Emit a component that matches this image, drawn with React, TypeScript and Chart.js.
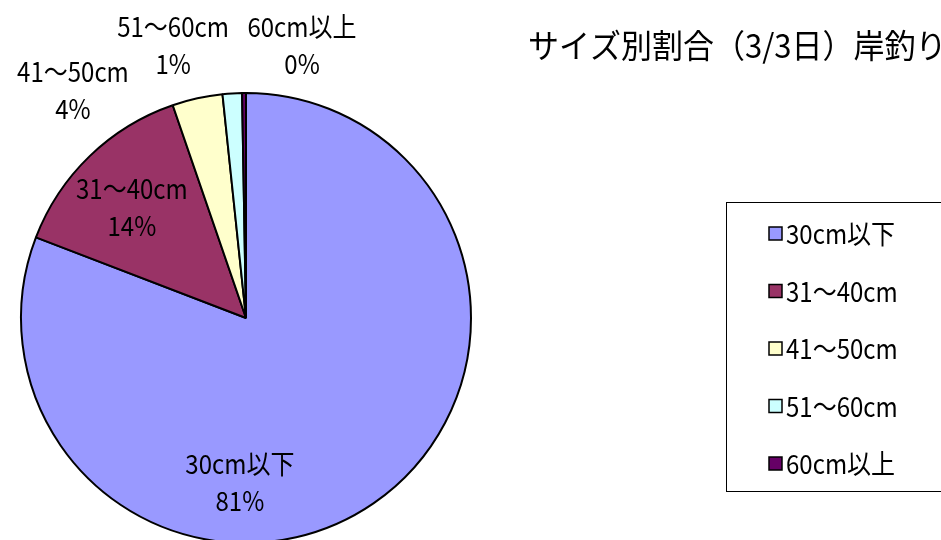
import React, { useEffect, useRef } from "react";
import { Chart, registerables } from "chart.js";

Chart.register(...registerables);

const categories = ["30cm以下", "31〜40cm", "41〜50cm", "51〜60cm", "60cm以上"];
const counts = [291, 50, 13, 5, 1];
const colors = ["#9999FF", "#993366", "#FFFFCC", "#CCFFFF", "#660066"];
const titleText = "サイズ別割合（3/3日）岸釣り";

const FONT = '"Noto Sans CJK JP", "Noto Sans CJK SC", sans-serif';

// label block centres, as fractions of the outer radius from the pie centre
const LABEL_OFFSETS: [number, number][] = [
  [-0.027, 0.729],
  [-0.507, -0.493],
  [-0.769, -1.013],
  [-0.324, -1.213],
  [0.249, -1.213],
];

function drawTall(ctx: CanvasRenderingContext2D, text: string, x: number, y: number, sy: number) {
  ctx.save();
  ctx.translate(x, y);
  ctx.scale(1, sy);
  ctx.fillText(text, 0, 0);
  ctx.restore();
}

const labelPlugin = {
  id: "pieLabels",
  afterDatasetsDraw(chart: any) {
    const meta = chart.getDatasetMeta(0);
    const data = chart.data.datasets[0].data as number[];
    const total = data.reduce((a, b) => a + b, 0);
    const ctx = chart.ctx;
    ctx.save();
    ctx.font = `24px ${FONT}`;
    ctx.fillStyle = "#000";
    ctx.textAlign = "center";
    ctx.textBaseline = "middle";
    meta.data.forEach((arc: any, i: number) => {
      const r = arc.outerRadius;
      const [fx, fy] = LABEL_OFFSETS[i];
      const cx = arc.x + fx * r;
      const cy = arc.y + fy * r;
      const pct = Math.round((data[i] / total) * 100) + "%";
      drawTall(ctx, chart.data.labels[i], cx, cy - 18.5, 1.12);
      drawTall(ctx, pct, cx, cy + 18.5, 1.12);
    });
    ctx.restore();
  },
};

const titleLegendPlugin = {
  id: "titleLegend",
  afterDraw(chart: any) {
    const ctx = chart.ctx;
    ctx.save();
    // title
    ctx.font = `31px ${FONT}`;
    ctx.fillStyle = "#000";
    ctx.textAlign = "left";
    ctx.textBaseline = "middle";
    drawTall(ctx, titleText, 528, 46, 1.05);
    // legend box
    ctx.strokeStyle = "#000";
    ctx.lineWidth = 1;
    ctx.strokeRect(726.5, 202.5, 400, 289);
    ctx.font = `24px ${FONT}`;
    const labels = chart.data.labels as string[];
    labels.forEach((lab, i) => {
      const y = 234 + i * 57.5;
      ctx.fillStyle = colors[i];
      ctx.fillRect(769, y - 7, 13, 13);
      ctx.lineWidth = 1.5;
      ctx.strokeStyle = "#000";
      ctx.strokeRect(769, y - 7, 13, 13);
      ctx.fillStyle = "#000";
      drawTall(ctx, lab, 786, y, 1.12);
    });
    ctx.restore();
  },
};

export default function App() {
  const ref = useRef<HTMLCanvasElement | null>(null);
  useEffect(() => {
    if (!ref.current) return;
    const chart = new Chart(ref.current, {
      type: "pie",
      data: {
        labels: categories,
        datasets: [
          {
            data: counts,
            backgroundColor: colors,
            borderColor: "#000",
            borderWidth: 2,
          },
        ],
      },
      options: {
        responsive: false,
        animation: false,
        radius: 225,
        layout: { padding: { left: 21, right: 470, top: 93, bottom: 17 } },
        plugins: {
          legend: { display: false },
          title: { display: false },
          tooltip: { enabled: false },
        },
      } as any,
      plugins: [labelPlugin, titleLegendPlugin],
    });
    return () => chart.destroy();
  }, []);
  return (
    <div
      style={{
        position: "absolute",
        left: 0,
        top: 0,
        width: 941,
        height: 540,
        overflow: "hidden",
        background: "#fff",
      }}
    >
      <canvas ref={ref} width={941} height={560} style={{ display: "block" }} />
    </div>
  );
}
